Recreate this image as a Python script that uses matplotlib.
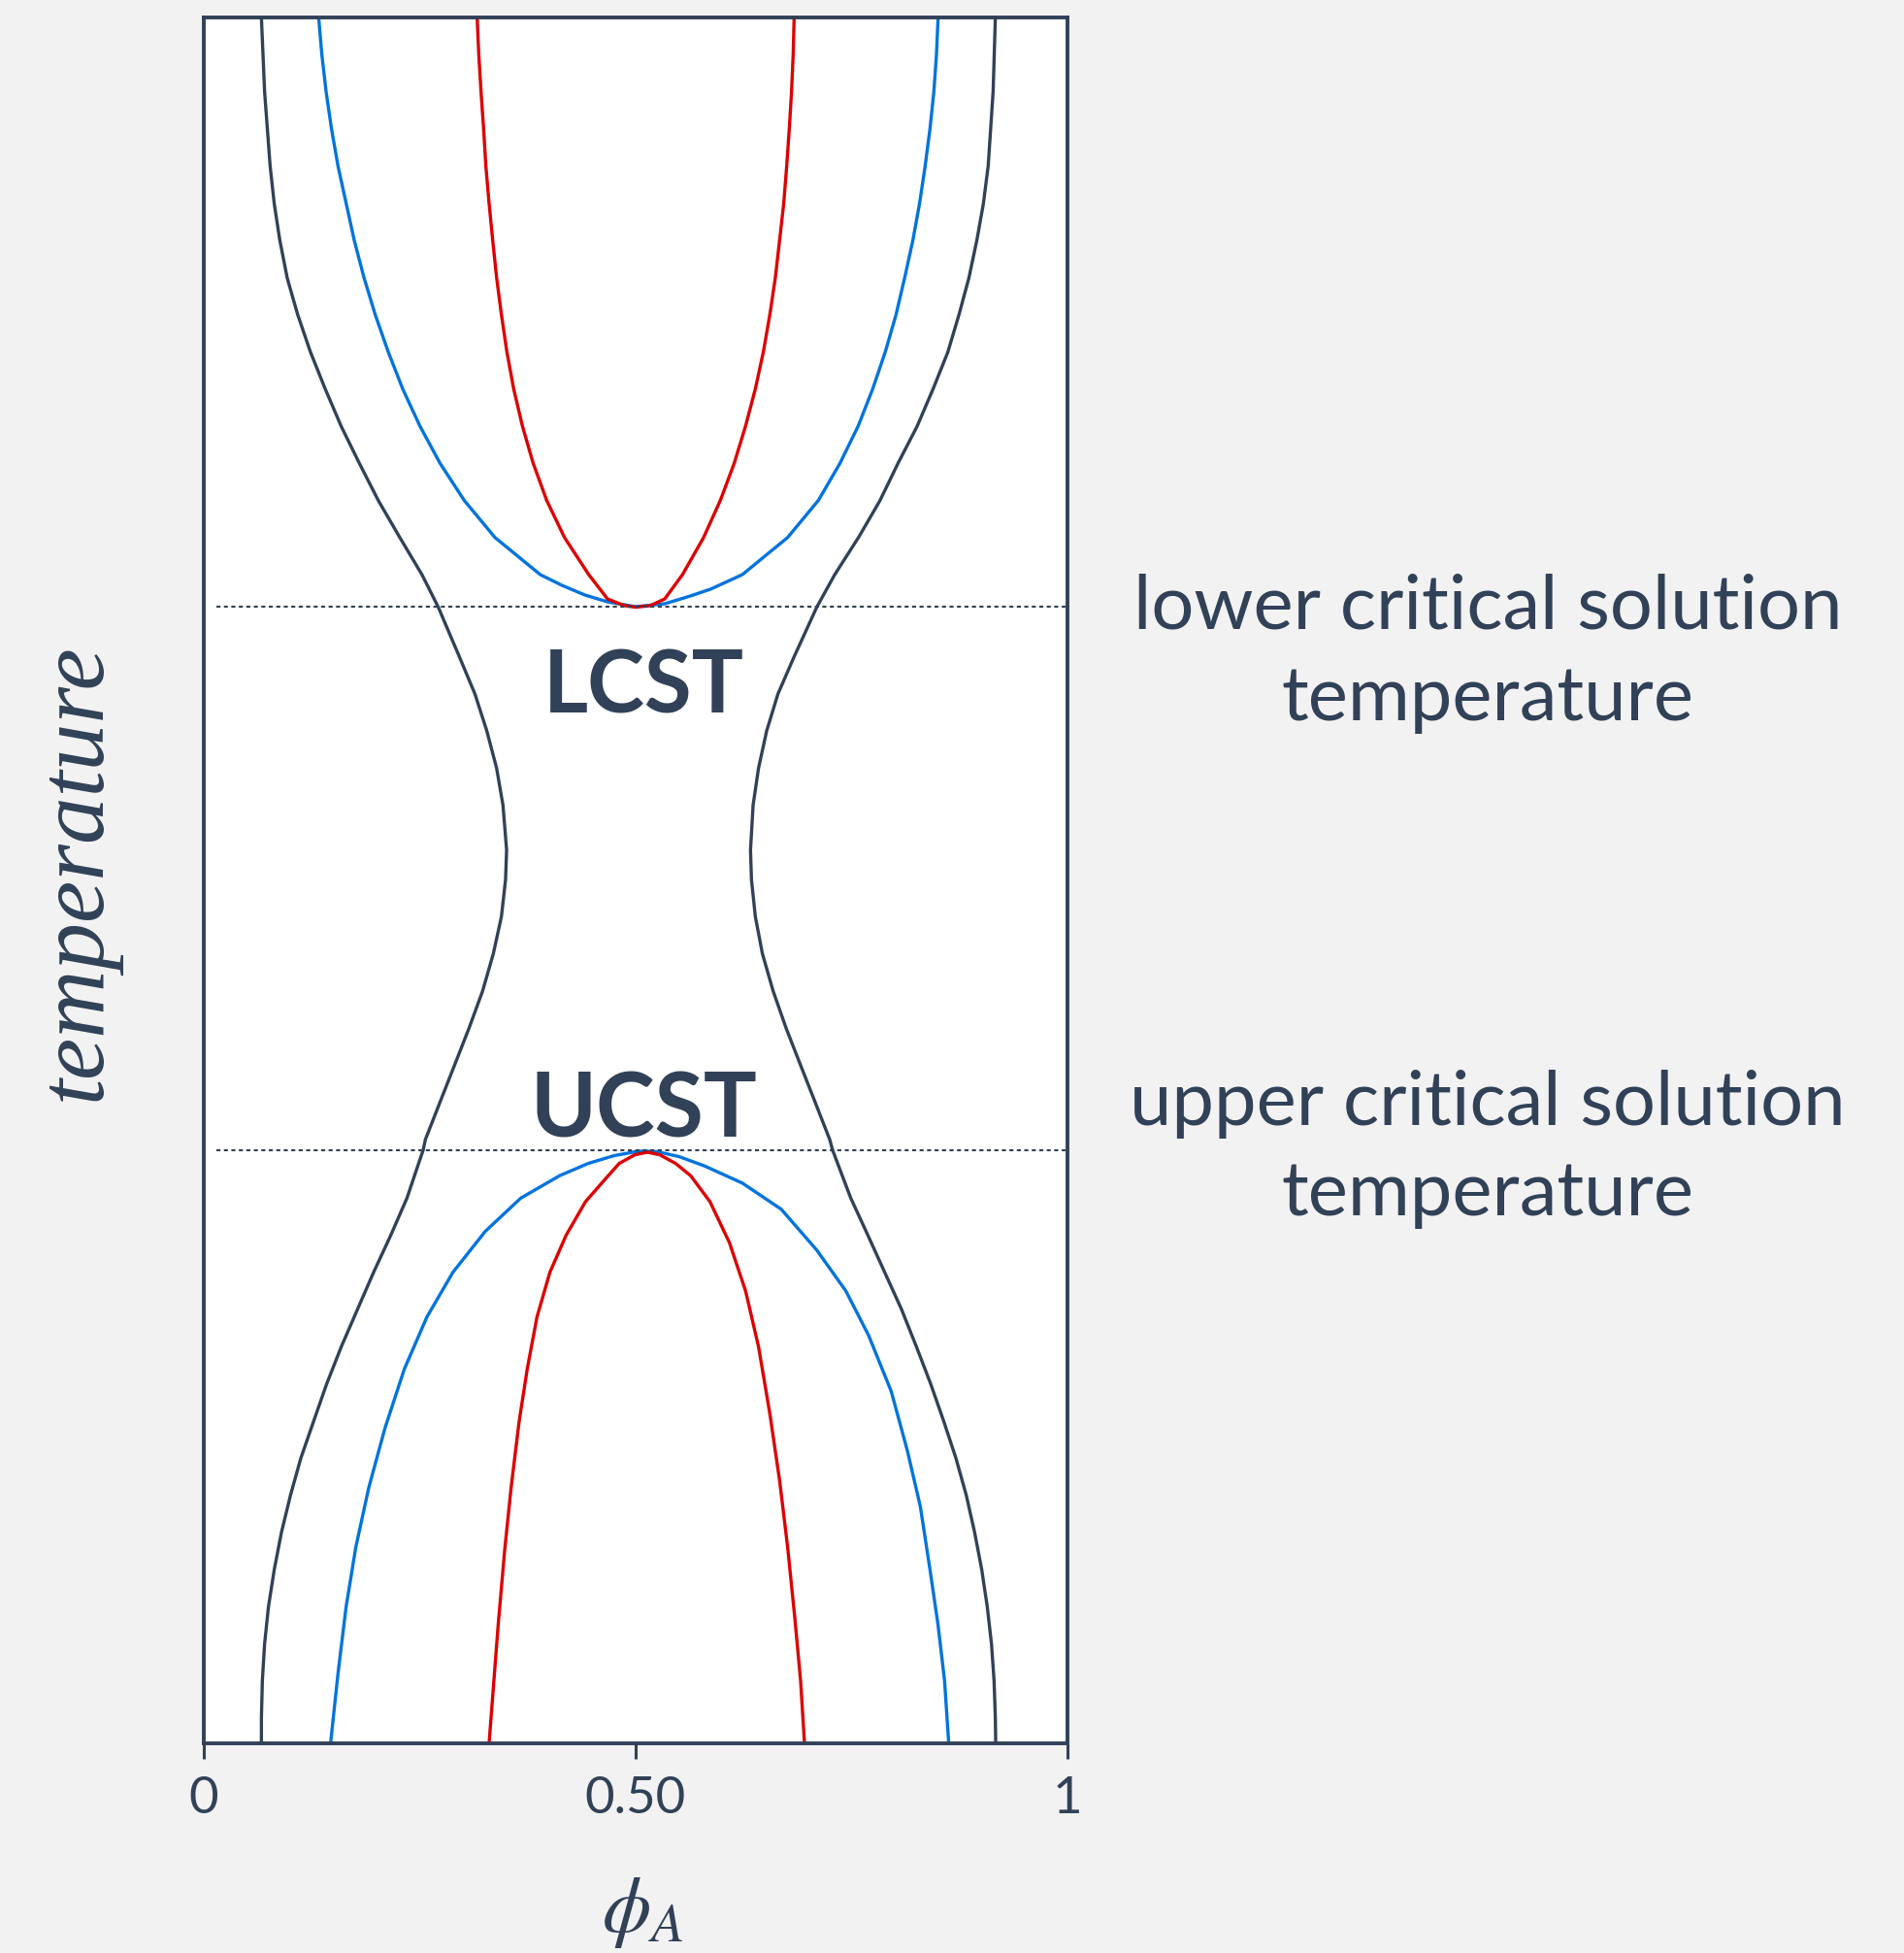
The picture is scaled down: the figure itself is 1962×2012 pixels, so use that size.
import matplotlib
matplotlib.use("Agg")
import matplotlib.pyplot as plt

# ==================================================
# DATA (phi_A, temperature in axis units 0..1)
# ==================================================
lcst_T = 0.6586
ucst_T = 0.3438
dotted_start = 0.015

dark_T = [1.0, .957, .914, .892, .871, .849, .828, .806, .785, .763, .742, .720, .699, .677,
          .6583, .6296, .6081, .5866, .5651, .5436, .5177, .5005, .4790, .4575, .4359, .4144,
          .3929, .3714, .3499, .3438, .3159, .2944, .2729, .2514, .2298, .2083, .1868, .1653,
          .1438, .1222, .1007, .0792, .0577, .0362, .0146, 0.0]
dark_left_phi = [.0667, .0704, .0768, .0816, .0880, .0966, .1086, .1236, .1404, .1592, .1798,
                 .2022, .2266, .2528, .2715, .2959, .3139, .3277, .3390, .3464, .3506, .3494,
                 .3446, .3352, .3228, .3071, .2903, .2734, .2566, .2540, .2352, .2165, .1966,
                 .1779, .1592, .1423, .1273, .1124, .1004, .0899, .0816, .0749, .0704, .0678,
                 .0667, .0667]
dark_right_phi = [.9165, .9139, .9082, .9026, .8951, .8858, .8745, .8614, .8446, .8258, .8041,
                  .7828, .7584, .7303, .7097, .6835, .6648, .6517, .6423, .6360, .6330, .6341,
                  .6386, .6468, .6592, .6742, .6910, .7079, .7247, .7280, .7491, .7689, .7884,
                  .8079, .8251, .8416, .8566, .8708, .8828, .8925, .9007, .9071, .9120, .9150,
                  .9165, .9169]

blue_up_phi = [.1330, .1367, .1416, .1479, .1554, .1648, .1742, .1854, .1985, .2135, .2303,
               .2502, .2734, .3015, .3371, .3895, .4146, .4410, .4674, .5000, .5337, .5596,
               .5865, .6236, .6760, .7116, .7367, .7577, .7745, .7891, .8015, .8116,
               .8210, .8288, .8352, .8408, .8453, .8483, .8502]
blue_up_T = [1.0, .9785, .957, .9354, .9139, .8924, .8709, .8494, .8278, .8063, .7848,
             .7633, .7418, .7202, .6987, .6772, .6710, .6654, .6614, .6586, .6603, .6642,
             .6687, .6772, .6987, .7202, .7418, .7633, .7848, .8063, .8278, .8494,
             .8709, .8924, .9139, .9354, .957, .9785, 1.0]

red_up_phi = [.3165, .3184, .3210, .3240, .3266, .3303, .3345, .3390, .3446, .3509, .3588,
              .3689, .3813, .3970, .4176, .4457, .4674, .4872, .5000, .5169, .5337, .5543,
              .5787, .5981, .6142, .6273, .6386, .6479, .6554, .6618, .6667, .6715, .6749,
              .6779, .6805, .6824, .6835]
red_up_T = [1.0, .9785, .957, .9354, .9139, .8924, .8709, .8494, .8278, .8063, .7848,
            .7633, .7418, .7202, .6987, .6772, .6631, .6592, .6583, .6592, .6631, .6772,
            .6987, .7202, .7418, .7633, .7848, .8063, .8278, .8494, .8709, .8924, .9139,
            .9354, .957, .9785, 1.0]

blue_low_phi = [.1468, .1554, .1648, .1760, .1910, .2097, .2322, .2584, .2884, .3258, .3670,
                .4120, .4450, .4750, .5000, .5100, .5250, .5500, .5800, .6236, .6685, .7097,
                .7434, .7697, .7959, .8146, .8296, .8408, .8502, .8577, .8625]
blue_low_T = [0.0, .0405, .0792, .1136, .1481, .1825, .2169, .2471, .2729, .2966, .3159,
              .3289, .3360, .3405, .3428, .3432, .3428, .3400, .3345, .3246, .3095, .2858,
              .2621, .2364, .2040, .1696, .1373, .1007, .0684, .0362, 0.0]

red_low_phi = [.3303, .3352, .3408, .3483, .3558, .3652, .3745, .3858, .4007, .4195, .4419,
               .4644, .4810, .4990, .5135, .5280, .5463, .5637, .5861, .6086, .6273, .6423,
               .6554, .6667, .6760, .6843, .6910, .6955]
red_low_T = [0.0, .0319, .0684, .1115, .1481, .1868, .2169, .2471, .2729, .2944, .3138,
             .3267, .3360, .3410, .3425, .3410, .3360, .3289, .3138, .2901, .2621, .2298,
             .1910, .1523, .1136, .0727, .0362, 0.0]

x_ticks = [0, 0.5, 1]
x_tick_labels = ["0", "0.50", "1"]

# ==================================================
# STYLE
# ==================================================
dark = "#314157"
blue = "#0073DD"
red = "#DD0000"
sans = ["Lato", "DejaVu Sans"]
plt.rcParams["mathtext.fontset"] = "stix"

W, H = 1962, 2012
fig = plt.figure(figsize=(W / 100, H / 100), dpi=100, facecolor="#F2F2F2")
ax = fig.add_axes([210 / W, 1 - 1796 / H, 890 / W, 1778 / H], facecolor="white")

lw = 2.4
ax.plot(dark_left_phi, dark_T, color=dark, lw=lw)
ax.plot(dark_right_phi, dark_T, color=dark, lw=lw)
ax.plot(blue_up_phi, blue_up_T, color=blue, lw=lw)
ax.plot(red_up_phi, red_up_T, color=red, lw=lw)
ax.plot(blue_low_phi, blue_low_T, color=blue, lw=lw)
ax.plot(red_low_phi, red_low_T, color=red, lw=lw)

for t in (lcst_T, ucst_T):
    ax.plot([dotted_start, 1], [t, t], color=dark, lw=1.5, dashes=(2, 1.7))

ax.set_xlim(0, 1)
ax.set_ylim(0, 1)
for s in ax.spines.values():
    s.set_color(dark)
    s.set_linewidth(2.8)

ax.set_yticks([])
ax.set_xticks(x_ticks)
ax.set_xticklabels(x_tick_labels, fontfamily=sans, fontsize=38, color=dark)
ax.tick_params(axis="x", direction="out", length=11.5, width=2.2, color=dark, pad=13)

# labels inside the plot
ax.text(0.509, 0.597, "LCST", ha="center", va="baseline",
        fontfamily=sans, fontweight="bold", fontsize=64, color=dark)
ax.text(0.510, ucst_T + 0.0075, "UCST", ha="center", va="baseline",
        fontfamily=sans, fontweight="bold", fontsize=66, color=dark)

# side annotations
side_x = 1533 / W
for y_px, txt in [(648, "lower critical solution"), (742, "temperature"),
                  (1159, "upper critical solution"), (1252, "temperature")]:
    fig.text(side_x, 1 - y_px / H, txt, ha="center", va="baseline",
             fontfamily=sans, fontsize=56, color=dark)

# axis titles
fig.text(79 / W, 1 - 898 / H, "temperature", rotation=90, ha="center", va="center",
         fontfamily="Liberation Serif", fontstyle="italic", fontsize=70, color=dark)
fig.text(662 / W, 1 - 1970 / H, r"$\phi_A$", ha="center", va="center",
         fontsize=58, color=dark)

fig.savefig("out.png", dpi=100, facecolor=fig.get_facecolor())
